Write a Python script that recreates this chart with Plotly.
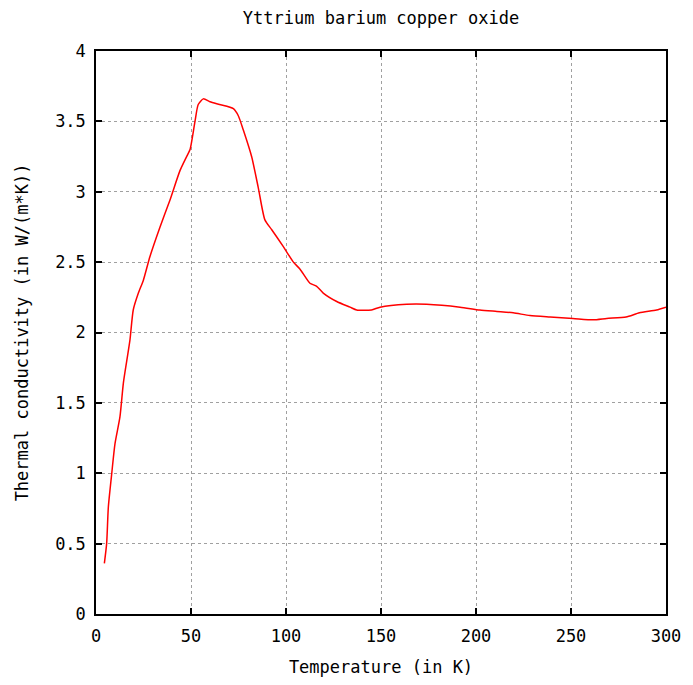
import plotly.graph_objects as go

temperature_K = [4.4, 5.6, 6.5, 8.3, 10, 12.6, 14.4, 16.2, 17.9, 19.6, 22.3, 24.9, 28.4, 33.7, 38.9,
                 44.2, 47.7, 49.5, 52.1, 53.8, 56.5, 60, 65, 72.3, 74.9, 77.5, 81.9, 85.4, 88.9, 92.5,
                 98.6, 103.9, 107.4, 112.6, 116, 119.6, 126.7, 133.7, 137.2, 145, 149.5, 163.5, 174,
                 191.6, 202, 211, 219.6, 228.4, 239, 251, 261.7, 268.8, 279, 286, 295, 300]
conductivity = [0.36, 0.50, 0.76, 1.0, 1.21, 1.40, 1.64, 1.80, 1.95, 2.16, 2.28, 2.37, 2.54, 2.75, 2.94,
                3.15, 3.25, 3.30, 3.50, 3.62, 3.66, 3.64, 3.62, 3.59, 3.54, 3.44, 3.25, 3.03, 2.80, 2.73,
                2.61, 2.50, 2.45, 2.35, 2.33, 2.28, 2.22, 2.18, 2.16, 2.16, 2.18, 2.20, 2.20,
                2.18, 2.16, 2.15, 2.14, 2.12, 2.11, 2.10, 2.09, 2.10, 2.11, 2.14, 2.16, 2.18]

FONT = "DejaVu Sans Mono"
FS = 17

fig = go.Figure()
fig.add_trace(go.Scatter(x=temperature_K, y=conductivity, mode="lines",
                         line=dict(color="#ff0000", width=1.5, shape="spline", smoothing=0.6),
                         showlegend=False, hoverinfo="skip"))

axis_common = dict(
    showline=True, linecolor="#000000", linewidth=1.5, mirror="ticks",
    ticks="inside", ticklen=6, tickwidth=1.5, tickcolor="#000000",
    showgrid=True, gridcolor="#a0a0a0", gridwidth=1, griddash="dot",
    zeroline=False, tickfont=dict(family=FONT, size=FS, color="#000000"),
)

fig.update_layout(
    width=693, height=685,
    margin=dict(l=96, r=27, t=51, b=71, autoexpand=False),
    paper_bgcolor="white", plot_bgcolor="white",
    font=dict(family=FONT, size=FS, color="#000000"),
    title=dict(text="Yttrium barium copper oxide", xref="paper", x=0.5, xanchor="center",
               y=1 - 18 / 685, yanchor="middle", font=dict(family=FONT, size=FS)),
    xaxis=dict(range=[0, 300], dtick=50, tick0=0, ticklabelstandoff=6,
               title=dict(text="Temperature (in K)", standoff=16, font=dict(family=FONT, size=FS)),
               **axis_common),
    yaxis=dict(range=[0, 4], dtick=0.5, tick0=0, ticklabelstandoff=5,
               title=dict(text="Thermal conductivity (in W/(m*K))", standoff=22,
                          font=dict(family=FONT, size=FS)),
               **axis_common),
)

fig.write_html("out.html")
